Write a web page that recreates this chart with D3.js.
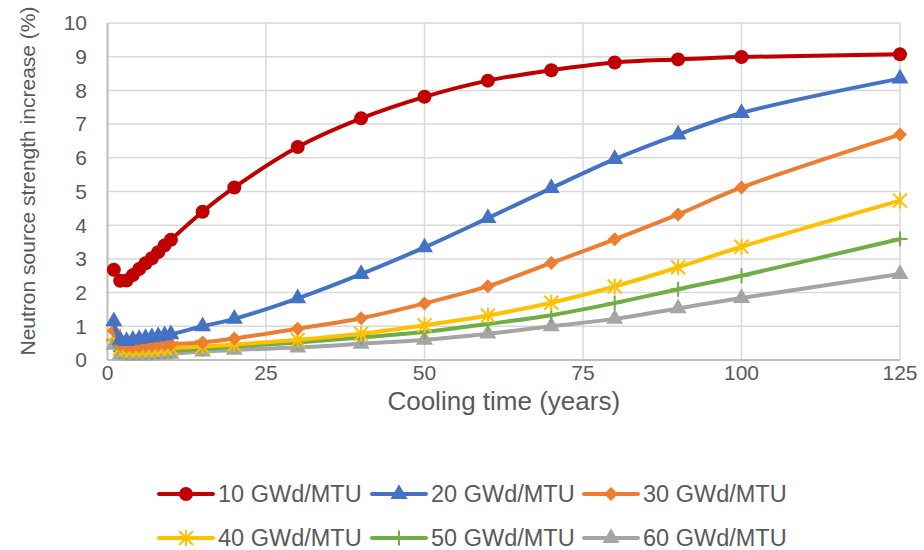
<!DOCTYPE html>
<html>
<head>
<meta charset="utf-8">
<script src="https://cdn.jsdelivr.net/npm/d3@7"></script>
<style>
  body { margin: 0; background: #fff; }
  text { font-family: "Liberation Sans", Arial, sans-serif; fill: #595959; }
</style>
</head>
<body>
<svg id="chart"></svg>
<script>
const width = 924;
const height = 550;

// cooling time (years)
const years = [1, 2, 3, 4, 5, 6, 7, 8, 9, 10, 15, 20, 30, 40, 50, 60, 70, 80, 90, 100, 125];

// neutron source strength increase (%) per burnup
const bu10 = [2.68, 2.35, 2.36, 2.52, 2.7, 2.87, 3.02, 3.2, 3.4, 3.57, 4.4, 5.12, 6.32, 7.17, 7.81, 8.29, 8.6, 8.83, 8.92, 8.99, 9.07];
const bu20 = [1.15, 0.6, 0.56, 0.6, 0.62, 0.65, 0.67, 0.7, 0.73, 0.76, 1.0, 1.22, 1.83, 2.55, 3.34, 4.21, 5.1, 5.96, 6.69, 7.33, 8.35];
const bu30 = [0.87, 0.45, 0.4, 0.4, 0.41, 0.42, 0.43, 0.45, 0.46, 0.47, 0.52, 0.64, 0.93, 1.24, 1.68, 2.19, 2.88, 3.58, 4.32, 5.12, 6.69];
const bu40 = [0.72, 0.35, 0.3, 0.3, 0.3, 0.31, 0.32, 0.33, 0.35, 0.36, 0.4, 0.46, 0.6, 0.78, 1.03, 1.32, 1.7, 2.18, 2.75, 3.36, 4.73];
const bu50 = [0.6, 0.26, 0.22, 0.22, 0.22, 0.23, 0.24, 0.25, 0.26, 0.27, 0.33, 0.4, 0.52, 0.67, 0.83, 1.07, 1.33, 1.69, 2.1, 2.5, 3.59];
const bu60 = [0.45, 0.16, 0.13, 0.12, 0.13, 0.14, 0.14, 0.15, 0.16, 0.18, 0.25, 0.3, 0.37, 0.48, 0.6, 0.78, 1.0, 1.22, 1.53, 1.84, 2.55];

const seriesNames = ["10 GWd/MTU", "20 GWd/MTU", "30 GWd/MTU", "40 GWd/MTU", "50 GWd/MTU", "60 GWd/MTU"];
const seriesValues = [bu10, bu20, bu30, bu40, bu50, bu60];
const colors = ["#C00000", "#4472C4", "#ED7D31", "#FFC000", "#70AD47", "#A5A5A5"];
const markers = ["circle", "triangle", "diamond", "star", "plus", "triangle"];

const xTicks = [0, 25, 50, 75, 100, 125];
const yTicks = [0, 1, 2, 3, 4, 5, 6, 7, 8, 9, 10];

const margin = { left: 107.5, right: 24, top: 23, bottom: 190 };

const svg = d3.select("#chart")
  .attr("width", width)
  .attr("height", height);

const x = d3.scaleLinear()
  .domain([0, 125])
  .range([margin.left, width - margin.right]);

const y = d3.scaleLinear()
  .domain([0, 10])
  .range([height - margin.bottom, margin.top]);

// gridlines
svg.append("g")
  .selectAll("line")
  .data(yTicks)
  .enter().append("line")
  .attr("x1", x(0)).attr("x2", x(125))
  .attr("y1", d => y(d)).attr("y2", d => y(d))
  .attr("stroke", "#D9D9D9")
  .attr("stroke-width", 1.5);

svg.append("g")
  .selectAll("line")
  .data(xTicks)
  .enter().append("line")
  .attr("x1", d => x(d)).attr("x2", d => x(d))
  .attr("y1", y(0)).attr("y2", y(10))
  .attr("stroke", "#D9D9D9")
  .attr("stroke-width", 1.5);

// axis lines
svg.append("line")
  .attr("x1", x(0)).attr("x2", x(0))
  .attr("y1", y(0)).attr("y2", y(10))
  .attr("stroke", "#BFBFBF").attr("stroke-width", 2);
svg.append("line")
  .attr("x1", x(0)).attr("x2", x(125))
  .attr("y1", y(0)).attr("y2", y(0))
  .attr("stroke", "#BFBFBF").attr("stroke-width", 2);

// tick labels
svg.append("g")
  .selectAll("text")
  .data(yTicks)
  .enter().append("text")
  .attr("x", 87)
  .attr("y", d => y(d))
  .attr("dy", "0.35em")
  .attr("text-anchor", "end")
  .attr("font-size", 21)
  .text(d => d);

svg.append("g")
  .selectAll("text")
  .data(xTicks)
  .enter().append("text")
  .attr("x", d => x(d))
  .attr("y", y(0) + 12)
  .attr("dy", "0.4em")
  .attr("text-anchor", "middle")
  .attr("font-size", 21)
  .text(d => d);

// axis titles
svg.append("text")
  .attr("x", (x(0) + x(125)) / 2)
  .attr("y", 410)
  .attr("text-anchor", "middle")
  .attr("font-size", 26)
  .text("Cooling time (years)");

svg.append("text")
  .attr("transform", "translate(35," + 181 + ") rotate(-90)")
  .attr("text-anchor", "middle")
  .attr("font-size", 21)
  .text("Neutron source strength increase (%)");

// marker drawing
function drawMarker(g, type, color, cx, cy) {
  if (type === "circle") {
    g.append("circle").attr("cx", cx).attr("cy", cy).attr("r", 7).attr("fill", color);
  } else if (type === "triangle") {
    g.append("path")
      .attr("d", d3.symbol().type(d3.symbolTriangle).size(125)())
      .attr("transform", "translate(" + cx + "," + cy + ")")
      .attr("fill", color);
  } else if (type === "diamond") {
    g.append("path")
      .attr("d", "M0,-7L7,0L0,7L-7,0Z")
      .attr("transform", "translate(" + cx + "," + cy + ")")
      .attr("fill", color);
  } else if (type === "star") {
    g.append("path")
      .attr("d", "M-7,-7L7,7M-7,7L7,-7M0,-8L0,8")
      .attr("transform", "translate(" + cx + "," + cy + ")")
      .attr("stroke", color).attr("stroke-width", 2).attr("fill", "none");
  } else if (type === "plus") {
    g.append("path")
      .attr("d", "M-7.5,0L7.5,0M0,-7.5L0,7.5")
      .attr("transform", "translate(" + cx + "," + cy + ")")
      .attr("stroke", color).attr("stroke-width", 2).attr("fill", "none");
  }
}

const line = d3.line()
  .x(d => x(d[0]))
  .y(d => y(d[1]))
  .curve(d3.curveCatmullRom.alpha(0.5));

// series (draw last series first so red ends on top)
for (let s = seriesValues.length - 1; s >= 0; s--) {
  const pts = years.map((t, i) => [t, seriesValues[s][i]]);
  const g = svg.append("g");
  g.append("path")
    .datum(pts)
    .attr("d", line)
    .attr("fill", "none")
    .attr("stroke", colors[s])
    .attr("stroke-width", 4)
    .attr("stroke-linecap", "round");
  pts.forEach(p => drawMarker(g, markers[s], colors[s], x(p[0]), y(p[1])));
}

// legend
const legendX = [159, 372, 584];
const legendY = [494, 538];
seriesNames.forEach((name, i) => {
  const lx = legendX[i % 3];
  const ly = legendY[Math.floor(i / 3)];
  const g = svg.append("g");
  g.append("line")
    .attr("x1", lx).attr("x2", lx + 54)
    .attr("y1", ly).attr("y2", ly)
    .attr("stroke", colors[i]).attr("stroke-width", 4)
    .attr("stroke-linecap", "round");
  drawMarker(g, markers[i], colors[i], lx + 27, ly);
  g.append("text")
    .attr("x", lx + 59)
    .attr("y", ly)
    .attr("dy", "0.35em")
    .attr("font-size", 23.5)
    .text(name);
});
</script>
</body>
</html>
